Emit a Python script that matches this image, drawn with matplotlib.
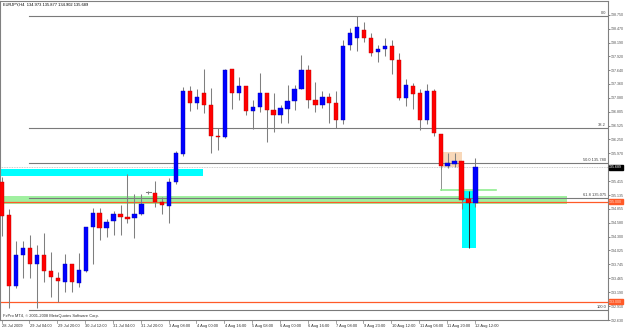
import matplotlib
matplotlib.use("Agg")
import matplotlib.pyplot as plt
from matplotlib.patches import Rectangle
import matplotlib.transforms as mtrans

# ---------------- data (EURJPY, H4) ----------------
opens = [135.397, 134.739, 133.311, 133.928, 134.076, 133.757, 133.928, 133.610, 133.478, 133.398,
         133.743, 133.371, 133.610, 134.494, 134.773, 134.474, 134.606, 134.753, 134.694, 134.674,
         134.753, 135.190, 135.178, 134.992, 134.913, 135.391, 135.955, 137.210, 136.971, 137.184,
         136.931, 136.313, 136.299, 137.662, 137.184, 137.324, 136.811, 136.897, 137.170, 136.845,
         136.746, 136.857, 137.011, 137.250, 137.648, 137.045, 136.931, 137.090, 136.971, 136.638,
         138.140, 138.286, 138.445, 138.286, 137.993, 138.061, 138.126, 137.848, 137.076, 137.329,
         137.170, 136.638, 137.224, 136.367, 135.710, 135.761, 135.815, 135.058, 134.973]
highs = [135.496, 134.845, 134.207, 134.221, 134.327, 134.128, 134.381, 133.996, 133.598, 133.956,
         133.750, 133.982, 134.500, 134.873, 134.873, 134.660, 134.819, 134.925, 135.562, 135.158,
         135.158, 135.223, 135.423, 135.092, 135.470, 136.021, 137.290, 137.329, 137.250, 137.662,
         137.284, 136.487, 137.662, 137.668, 137.503, 137.329, 137.037, 137.583, 137.170, 137.170,
         136.945, 137.343, 137.343, 137.947, 137.748, 137.409, 137.216, 137.170, 137.216, 138.246,
         138.485, 138.724, 138.605, 138.385, 138.146, 138.280, 138.246, 137.981, 137.463, 137.383,
         137.250, 137.369, 137.250, 136.367, 135.975, 135.975, 135.815, 135.223, 135.877]
lows = [134.321, 132.880, 133.279, 133.464, 133.464, 132.880, 133.398, 133.100, 132.986, 133.199,
        133.199, 133.299, 133.590, 133.743, 134.227, 134.287, 134.327, 134.327, 134.566, 134.275,
        134.739, 135.158, 134.885, 134.759, 134.580, 135.357, 135.915, 136.811, 136.851, 136.786,
        135.969, 136.040, 136.287, 136.851, 137.037, 136.738, 136.453, 136.797, 136.188, 136.399,
        136.586, 136.586, 136.837, 137.250, 136.885, 136.797, 136.885, 136.586, 136.487, 136.552,
        138.047, 138.013, 138.206, 137.913, 137.794, 137.913, 137.569, 137.031, 136.917, 136.851,
        136.439, 136.552, 136.319, 135.656, 135.670, 135.702, 134.845, 134.076, 134.902]
closes = [134.719, 133.319, 133.928, 134.076, 133.757, 133.928, 133.618, 133.484, 133.410, 133.757,
          133.385, 133.624, 134.494, 134.773, 134.474, 134.600, 134.759, 134.694, 134.660, 134.753,
          134.953, 135.192, 134.992, 134.925, 135.391, 135.969, 137.210, 136.971, 137.090, 136.931,
          136.313, 136.293, 137.648, 137.176, 137.316, 136.811, 136.897, 137.170, 136.837, 136.746,
          136.871, 137.011, 137.250, 137.648, 137.037, 136.931, 137.090, 136.971, 136.638, 138.126,
          138.385, 138.505, 138.286, 137.981, 138.061, 138.126, 137.834, 137.070, 137.343, 137.164,
          136.638, 137.224, 136.373, 135.722, 135.775, 135.815, 135.044, 134.972, 135.689]

time_labels = ["28 Jul 2009", "29 Jul 04:00", "29 Jul 20:00", "30 Jul 12:00", "31 Jul 04:00",
               "31 Jul 20:00", "3 Aug 08:00", "4 Aug 00:00", "4 Aug 16:00", "5 Aug 08:00",
               "6 Aug 00:00", "6 Aug 16:00", "7 Aug 08:00", "9 Aug 23:00", "10 Aug 12:00",
               "11 Aug 04:00", "11 Aug 20:00", "12 Aug 12:00"]
time_label_bars = [0, 4, 8, 12, 16, 20, 24, 28, 32, 36, 40, 44, 48, 52, 56, 60, 64, 68]

price_ticks = [138.750, 138.470, 138.190, 137.920, 137.640, 137.360, 137.080, 136.805, 136.525,
               136.250, 135.970, 135.415, 135.135, 134.855, 134.580, 134.300, 134.025, 133.745,
               133.465, 133.190, 132.910, 132.630]

fib_names = ["0.0", "38.2", "50.0 135.780", "61.8 135.075", "100.0"]
fib_prices = [138.730, 136.476, 135.780, 135.075, 132.826]

hlines_orange = [135.000, 133.000]
bid_price = 135.689
header = "EURJPY,H4  134.973 135.877 134.902 135.689"

# zones (bar ranges and price ranges)
cyan_zone_left = (-0.4, 28.9, 135.522, 135.656)
green_zone = (-0.4, 81.1, 134.958, 135.112)
peach_zone = (63.0, 66.1, 135.690, 135.989)
cyan_zone_right = (66.0, 68.1, 134.076, 135.224)
green_mark = (63.07, 71.0, 135.237, 135.696)

# ---------------- figure ----------------
W, H = 625, 330
fig = plt.figure(figsize=(W / 100, H / 100), dpi=100)
fig.patch.set_facecolor("white")
ax = fig.add_axes([0, 10 / H, 608 / W, 319 / H])
ax.set_facecolor("white")

px_bar = 6.96
x0 = 2.2
ax.set_xlim(-x0 / px_bar, (608 - x0) / px_bar)
ax.set_ylim(139.0429 - 0.019924 * 320, 139.0429 - 0.019924 * 1)

FONT = "Liberation Sans"
FS = 2.9
FSY = 2.65

def rect(z, color, alpha=1.0, zo=1):
    x1, x2, y1, y2 = z
    ax.add_patch(Rectangle((x1, y1), x2 - x1, y2 - y1, facecolor=color, edgecolor="none",
                           alpha=alpha, zorder=zo))

rect(cyan_zone_left, "#00FFFF")
rect(green_zone, "#90EE90", 0.85)
rect(peach_zone, "#F7CFA8", 0.8)
rect(cyan_zone_right, "#00FFFF")

# L-shaped marker
gx1, gx2, gy1, gy2 = green_mark
ax.plot([gx1, gx1], [gy1, gy2], color="#909090", lw=0.7, zorder=2)
ax.plot([gx1, gx2], [gy1, gy1], color="#90EE90", lw=1.2, zorder=2)

# fib lines
fx_start = 3.9
fx_end = (606 - x0) / px_bar
for name, p in zip(fib_names, fib_prices):
    ax.plot([fx_start, (608 - x0) / px_bar], [p, p], color="#7a7a7a", lw=0.8, zorder=2)
    ax.text(fx_end, p + 0.02, name, fontsize=FS, family=FONT, color="#404040",
            ha="right", va="bottom", zorder=6)

# orange horizontal lines
for p in hlines_orange:
    ax.axhline(p, color="#FF5A28", lw=0.9, zorder=2)

# bid line
ax.axhline(bid_price, color="#BDBDBD", lw=0.6, ls=(0, (1, 1)), zorder=2)

# candles
bw = 0.62
for i, (o, h, l, c) in enumerate(zip(opens, highs, lows, closes)):
    wick_col = "#303030" if i == 67 else "#7f7f7f"
    ax.plot([i, i], [l, h], color=wick_col, lw=0.75, zorder=3, solid_capstyle="butt")
    if abs(c - o) < 0.006:
        ax.plot([i - bw / 2, i + bw / 2], [o, o], color="#7f7f7f", lw=0.75, zorder=4)
        continue
    col = "#0000FF" if c > o else "#FF0000"
    edge = "#0000B0" if c > o else "#C00000"
    ax.add_patch(Rectangle((i - bw / 2, min(o, c)), bw, abs(c - o), facecolor=col,
                           edgecolor=edge, lw=0.3, zorder=4))

# spines / ticks
for s in ax.spines.values():
    s.set_color("#808080")
    s.set_linewidth(0.8)
ax.set_xticks([])
ax.yaxis.tick_right()
ax.set_yticks(price_ticks)
ax.set_yticklabels([f"{p:.3f}" for p in price_ticks], fontsize=FSY, family=FONT, color="#303030")
ax.tick_params(axis="y", length=1.4, width=0.5, pad=0.7, colors="#505050")

# time labels
blend = mtrans.blended_transform_factory(ax.transData, ax.transAxes)
for b, lab in zip(time_label_bars, time_labels):
    ax.text(b - 0.04, -0.019, lab, transform=blend, fontsize=FS, family=FONT,
            color="#303030", ha="left", va="center", clip_on=False)
    ax.plot([b - 0.1, b - 0.1], [0, -0.008], transform=blend, color="#808080", lw=0.5,
            clip_on=False)

# axis price boxes
yblend = mtrans.blended_transform_factory(ax.transAxes, ax.transData)
ax.text(1.002, bid_price, f"{bid_price:.3f}", transform=yblend, fontsize=FSY, family=FONT,
        color="white", ha="left", va="center", clip_on=False, zorder=10,
        bbox=dict(boxstyle="square,pad=0.15", facecolor="black", edgecolor="black"))
for p in hlines_orange:
    ax.text(1.002, p, f"{p:.3f}", transform=yblend, fontsize=FSY, family=FONT,
            color="#FFE0D0", ha="left", va="center", clip_on=False, zorder=10,
            bbox=dict(boxstyle="square,pad=0.15", facecolor="#FF5A28", edgecolor="#FF5A28"))

# header and copyright
ax.text(0.005, 0.988, header, transform=ax.transAxes, fontsize=FS, family=FONT,
        color="black", ha="left", va="center")
ax.text(0.005, 0.006, "FxPro MT4, \u00a9 2001-2008 MetaQuotes Software Corp.",
        transform=ax.transAxes, fontsize=FS, family=FONT, color="#303030",
        ha="left", va="bottom")

fig.savefig("out.png", dpi=100, facecolor="white")
